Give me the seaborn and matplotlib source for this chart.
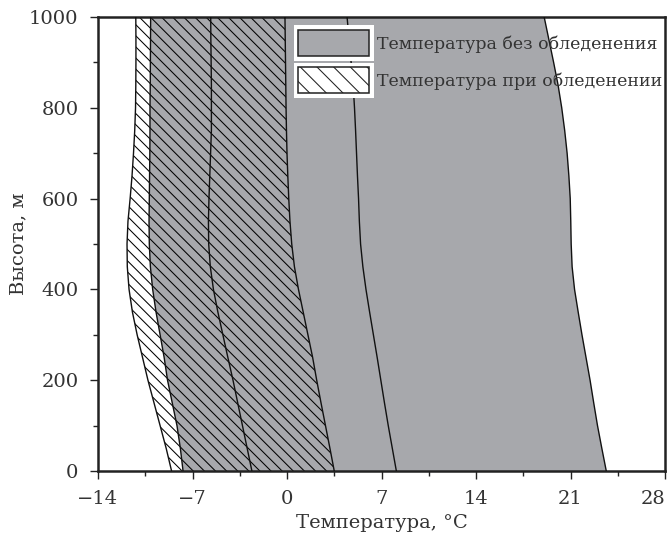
import numpy as np
import pandas as pd
import matplotlib
matplotlib.use("Agg")
import matplotlib.pyplot as plt
import seaborn as sns
from matplotlib.patches import Rectangle, Patch
from matplotlib.legend_handler import HandlerPatch
from matplotlib.ticker import MultipleLocator, FixedLocator

# ---- data ----
heights = [0, 50, 100, 150, 200, 250, 300, 350, 400, 450, 500,
           550, 600, 650, 700, 750, 800, 850, 900, 950, 1000]
t_min_icing = [-8.55, -8.95, -9.4, -9.85, -10.3, -10.7, -11.1, -11.45, -11.7, -11.83, -11.85,
               -11.78, -11.62, -11.48, -11.37, -11.28, -11.22, -11.2, -11.19, -11.19, -11.2]
t_min_clear = [-7.7, -7.9, -8.15, -8.5, -8.85, -9.1, -9.4, -9.7, -9.95, -10.12, -10.2,
               -10.22, -10.2, -10.18, -10.16, -10.15, -10.15, -10.13, -10.12, -10.11, -10.1]
t_mean_icing = [-2.6, -2.95, -3.3, -3.65, -4.0, -4.38, -4.75, -5.12, -5.45, -5.68, -5.8,
                -5.82, -5.78, -5.72, -5.66, -5.6, -5.6, -5.6, -5.62, -5.64, -5.65]
t_max_icing = [3.5, 3.18, 2.85, 2.52, 2.2, 1.9, 1.55, 1.2, 0.85, 0.55, 0.35,
               0.22, 0.13, 0.06, 0.0, -0.04, -0.07, -0.09, -0.11, -0.13, -0.15]
t_mean_clear = [8.1, 7.8, 7.5, 7.22, 6.95, 6.68, 6.4, 6.12, 5.85, 5.62, 5.45,
                5.36, 5.3, 5.22, 5.15, 5.08, 5.0, 4.9, 4.75, 4.6, 4.45]
t_max_clear = [23.65, 23.32, 23.0, 22.72, 22.45, 22.15, 21.85, 21.57, 21.3, 21.12, 21.05,
               21.02, 20.98, 20.88, 20.75, 20.57, 20.35, 20.08, 19.75, 19.4, 19.05]

x_ticks = [-14, -7, 0, 7, 14, 21, 28]
x_tick_labels = ["\u221214", "\u22127", "0", "7", "14", "21", "28"]
y_ticks = [0, 200, 400, 600, 800, 1000]

label_clear = "Температура без обледенения"
label_icing = "Температура при обледенении"
x_label = "Температура, °C"
y_label = "Высота, м"

# ---- style ----
sns.set_theme(style="white")
plt.rcParams["font.family"] = ["DejaVu Serif"]
plt.rcParams["hatch.color"] = "black"
plt.rcParams["hatch.linewidth"] = 0.75
text_col = "#333333"
grey = "#a7a8ac"
spine_col = "#222222"

fig = plt.figure(figsize=(6.67, 5.40), dpi=100)
ax = fig.add_axes([98 / 667, 69 / 540, 567 / 667, 454 / 540])

df = pd.DataFrame({
    "h": heights,
    "a": t_min_icing, "b": t_min_clear, "c": t_mean_icing,
    "d": t_max_icing, "e": t_mean_clear, "f": t_max_clear,
})

# grey band (no icing)
ax.fill_betweenx(df["h"], df["b"], df["f"], facecolor=grey, edgecolor="none", linewidth=0, zorder=1)
# hatched band (icing)
ax.fill_betweenx(df["h"], df["a"], df["d"], facecolor="none", edgecolor="black",
                 hatch="\\\\\\", linewidth=0, zorder=2)

for col in ["a", "b", "c", "d", "e", "f"]:
    sns.lineplot(data=df, x=col, y="h", orient="y", estimator=None, sort=True,
                 color="#111111", linewidth=1.0, ax=ax, zorder=3)

ax.set_xlim(-14, 28)
ax.set_ylim(0, 1000)
ax.xaxis.set_major_locator(FixedLocator(x_ticks))
ax.set_xticklabels(x_tick_labels)
ax.xaxis.set_minor_locator(MultipleLocator(3.5))
ax.yaxis.set_major_locator(FixedLocator(y_ticks))
ax.yaxis.set_minor_locator(MultipleLocator(100))

ax.tick_params(axis="both", which="major", direction="out", length=6, width=1.0,
               color=spine_col, labelsize=14, labelcolor=text_col, pad=8,
               bottom=True, left=True)
ax.tick_params(axis="both", which="minor", direction="out", length=3.5, width=1.0,
               color=spine_col, bottom=True, left=True)
ax.get_xticklabels()[-1].set_horizontalalignment("right")
for s in ax.spines.values():
    s.set_visible(True)
    s.set_color(spine_col)
    s.set_linewidth(1.8)

ax.set_xlabel(x_label, fontsize=14, color=text_col, labelpad=4)
ax.set_ylabel(y_label, fontsize=14, color=text_col, labelpad=1)


class WhiteBoxHandler(HandlerPatch):
    def create_artists(self, legend, orig_handle, xdescent, ydescent,
                       width, height, fontsize, trans):
        pad = 4.5 * 72 / 100
        bg = Rectangle((-xdescent - pad, -ydescent - pad), width + 2 * pad, height + 2 * pad,
                       facecolor="white", edgecolor="none", transform=trans)
        p = Rectangle((-xdescent, -ydescent), width, height, transform=trans)
        self.update_prop(p, orig_handle, legend)
        p.set_transform(trans)
        return [bg, p]


h1 = Patch(facecolor=grey, edgecolor="#222222", linewidth=1.1, label=label_clear)
h2 = Patch(facecolor="white", edgecolor="#222222", linewidth=1.1, hatch="\\\\", label=label_icing)
leg = ax.legend(handles=[h1, h2], loc="upper left",
                bbox_to_anchor=((298 - 98) / 567, (471 - 30) / 454),
                frameon=False, fontsize=12.5, handlelength=4.1, handleheight=1.95,
                labelspacing=0.63, handletextpad=0.45, borderpad=0, borderaxespad=0,
                handler_map={Patch: WhiteBoxHandler()})
for t in leg.get_texts():
    t.set_color(text_col)

fig.savefig("out.png", dpi=100)
